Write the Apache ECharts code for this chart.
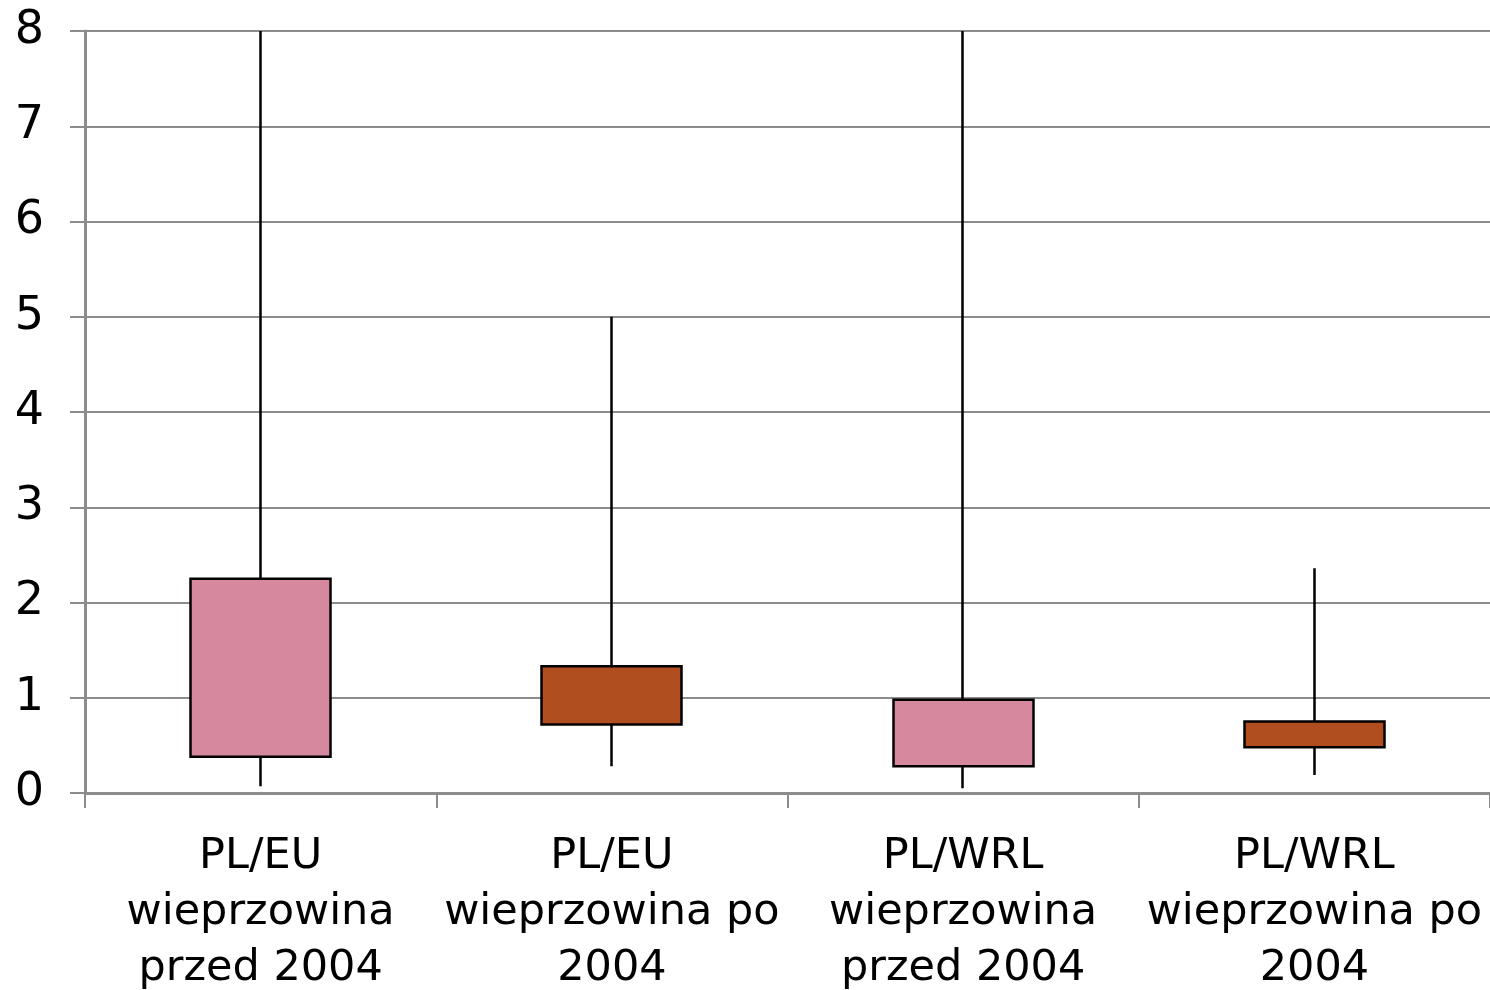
<!DOCTYPE html>
<html>
<head>
<meta charset="utf-8">
<script src="https://cdn.jsdelivr.net/npm/echarts@6/dist/echarts.min.js"></script>
<style>
  html, body { margin: 0; padding: 0; background: #ffffff; }
  #chart { width: 1490px; height: 990px; }
</style>
</head>
<body>
<div id="chart"></div>
<script>
// Categories on the x axis
const categories = [
  'PL/EU\nwieprzowina\nprzed 2004',
  'PL/EU\nwieprzowina po\n2004',
  'PL/WRL\nwieprzowina\nprzed 2004',
  'PL/WRL\nwieprzowina po\n2004'
];
// Box bottoms (lower quartile) and tops (upper quartile)
const lowerQuartile = [0.38, 0.72, 0.28, 0.48];
const upperQuartile = [2.25, 1.33, 0.98, 0.75];
// Whisker ends
const whiskerLow = [0.07, 0.28, 0.05, 0.19];
const whiskerHigh = [8, 5, 8, 2.36];
// Y axis ticks
const yMin = 0, yMax = 8, yStep = 1;

const boxFill = ['#d6889f', '#b04e20', '#d6889f', '#b04e20'];

const gridGrey = '#8c8c8c';
const fontFamily = '"DejaVu Sans", Verdana, sans-serif';

const chart = echarts.init(document.getElementById('chart'), null, { renderer: 'canvas' });

const boxData = categories.map((c, i) => ({
  value: [lowerQuartile[i], upperQuartile[i], whiskerLow[i], whiskerHigh[i]],
  itemStyle: {
    color: boxFill[i],
    color0: boxFill[i],
    borderColor: '#000000',
    borderColor0: '#000000',
    borderWidth: 2.5
  }
}));

chart.setOption({
  animation: false,
  backgroundColor: '#ffffff',
  grid: {
    left: 85, right: 0, top: 31, bottom: 197,
    containLabel: false,
    outerBoundsMode: 'none'
  },
  xAxis: {
    type: 'category',
    data: categories,
    boundaryGap: true,
    axisLine: { show: true, lineStyle: { color: gridGrey, width: 3 } },
    axisTick: { show: true, alignWithLabel: false, length: 15, lineStyle: { color: gridGrey, width: 2 } },
    axisLabel: {
      color: '#000000',
      fontFamily: fontFamily,
      fontSize: 43,
      lineHeight: 56,
      margin: 36,
      interval: 0
    },
    splitLine: { show: false }
  },
  yAxis: {
    type: 'value',
    min: yMin,
    max: yMax,
    interval: yStep,
    axisLine: { show: true, lineStyle: { color: gridGrey, width: 3 } },
    axisTick: { show: true, length: 15, lineStyle: { color: gridGrey, width: 2 } },
    axisLabel: {
      color: '#000000',
      fontFamily: fontFamily,
      fontSize: 46,
      margin: 41
    },
    splitLine: { show: true, lineStyle: { color: gridGrey, width: 2 } }
  },
  series: [{
    type: 'candlestick',
    barWidth: '40%',
    data: boxData,
    clip: true
  }]
});
</script>
</body>
</html>
